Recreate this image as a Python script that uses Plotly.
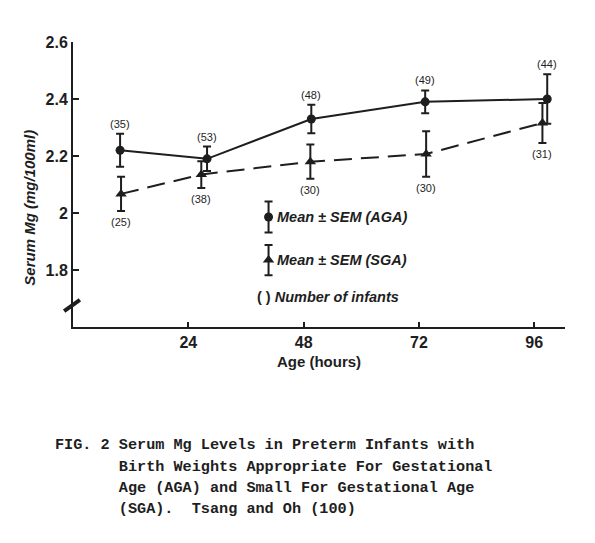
import plotly.graph_objects as go

# age in hours, serum Mg (mg/100ml), SEM and number of infants
aga_age = [9.8, 27.9, 49.6, 73.3, 98.7]
aga_mg = [2.22, 2.19, 2.33, 2.39, 2.40]
aga_sem = [0.058, 0.043, 0.05, 0.04, 0.087]
aga_n = [35, 53, 48, 49, 44]

sga_age = [10.0, 26.7, 49.4, 73.5, 97.7]
sga_mg = [2.067, 2.135, 2.18, 2.207, 2.316]
sga_sem = [0.06, 0.047, 0.06, 0.08, 0.07]
sga_n = [25, 38, 30, 30, 31]

# key entries (drawn inside the plot like the original)
key_age = [40.7, 40.7]
key_mg = [1.986, 1.835]
key_sem = [0.054, 0.053]
key_text = ["<i>Mean ± SEM (AGA)</i>", "<i>Mean ± SEM (SGA)</i>"]

x_ticks = [24, 48, 72, 96]
y_ticks = [1.8, 2.0, 2.2, 2.4, 2.6]
y_ticktext = ["1.8", "2", "2.2", "2.4", "2.6"]

caption = [
    "FIG. 2 Serum Mg Levels in Preterm Infants with",
    "       Birth Weights Appropriate For Gestational",
    "       Age (AGA) and Small For Gestational Age",
    "       (SGA).  Tsang and Oh (100)",
]

ink = "#1e1e1e"
sans = "Liberation Sans"

fig = go.Figure()

fig.add_trace(go.Scatter(
    x=aga_age, y=aga_mg, mode="lines+markers",
    line=dict(color=ink, width=2),
    marker=dict(symbol="circle", size=9, color=ink),
    error_y=dict(type="data", array=aga_sem, color=ink, thickness=2, width=4),
    showlegend=False,
))
fig.add_trace(go.Scatter(
    x=sga_age, y=sga_mg, mode="lines+markers",
    line=dict(color=ink, width=2, dash="18px,9px"),
    marker=dict(symbol="triangle-up", size=10, color=ink),
    error_y=dict(type="data", array=sga_sem, color=ink, thickness=2, width=4),
    showlegend=False,
))
for sym, size, a, m, s in zip(["circle", "triangle-up"], [9, 10], key_age, key_mg, key_sem):
    fig.add_trace(go.Scatter(
        x=[a], y=[m], mode="markers",
        marker=dict(symbol=sym, size=size, color=ink, opacity=1, line=dict(width=0)),
        error_y=dict(type="data", array=[s], color=ink, thickness=2, width=4),
        showlegend=False,
    ))

label_font = dict(family=sans, size=11, color=ink)
for a, m, s, n in zip(aga_age, aga_mg, aga_sem, aga_n):
    fig.add_annotation(x=a, y=m + s, text=f"({n})", showarrow=False,
                       yanchor="bottom", yshift=2, font=label_font)
for a, m, s, n in zip(sga_age, sga_mg, sga_sem, sga_n):
    fig.add_annotation(x=a, y=m - s, text=f"({n})", showarrow=False,
                       yanchor="top", yshift=-3, font=label_font)

key_font = dict(family=sans, size=14.5, color=ink, weight="bold")
for a, m, t in zip(key_age, key_mg, key_text):
    fig.add_annotation(x=a, y=m, text=t, showarrow=False, xanchor="left",
                       xshift=6, font=key_font)
fig.add_annotation(x=key_age[0], y=key_mg[1] - 0.13, text="( ) <i>Number of infants</i>",
                   showarrow=False, xanchor="left", xshift=-14, font=key_font)

# y axis title placed a little below centre like the original
fig.add_annotation(xref="paper", yref="paper", x=-0.11, y=0.42,
                   text="<i>Serum Mg (mg/100ml)</i>", textangle=-90,
                   showarrow=False, font=dict(family=sans, size=15, color=ink, weight="bold"))

# axis break mark
fig.add_shape(type="line", xref="paper", yref="paper",
              x0=-0.018, y0=0.056, x1=0.014, y1=0.095,
              line=dict(color=ink, width=4))

cap_font = dict(family="Liberation Mono", size=15.2, color=ink, weight="bold")
for i, line in enumerate(caption):
    fig.add_annotation(xref="paper", yref="paper", x=-0.041, y=-0.415 - i * 0.0745,
                       text=line.replace(" ", "\u00a0"), showarrow=False,
                       xanchor="left", yanchor="middle", font=cap_font)

fig.update_xaxes(
    range=[0, 102.4], tickvals=x_ticks, ticks="inside", ticklen=5, tickwidth=1.5,
    tickcolor=ink, showline=True, linecolor=ink, linewidth=2, showgrid=False,
    zeroline=False, tickfont=dict(family=sans, size=16, color=ink, weight="bold"),
    title=dict(text="Age (hours)", font=dict(family=sans, size=15, color=ink, weight="bold"),
               standoff=6),
)
fig.update_yaxes(
    range=[1.6, 2.6], tickvals=y_ticks, ticktext=y_ticktext, ticks="inside",
    ticklen=6, tickwidth=1.5, tickcolor=ink, showline=True, linecolor=ink,
    linewidth=2, showgrid=False, zeroline=False,
    tickfont=dict(family=sans, size=16, color=ink, weight="bold"),
)

# the page puts the figure 8px in from the corner, so margins are trimmed by that much
fig.update_layout(
    width=595, height=543,
    margin=dict(l=65, r=38, t=34, b=224),
    paper_bgcolor="white", plot_bgcolor="white",
)

fig.write_html("out.html")
